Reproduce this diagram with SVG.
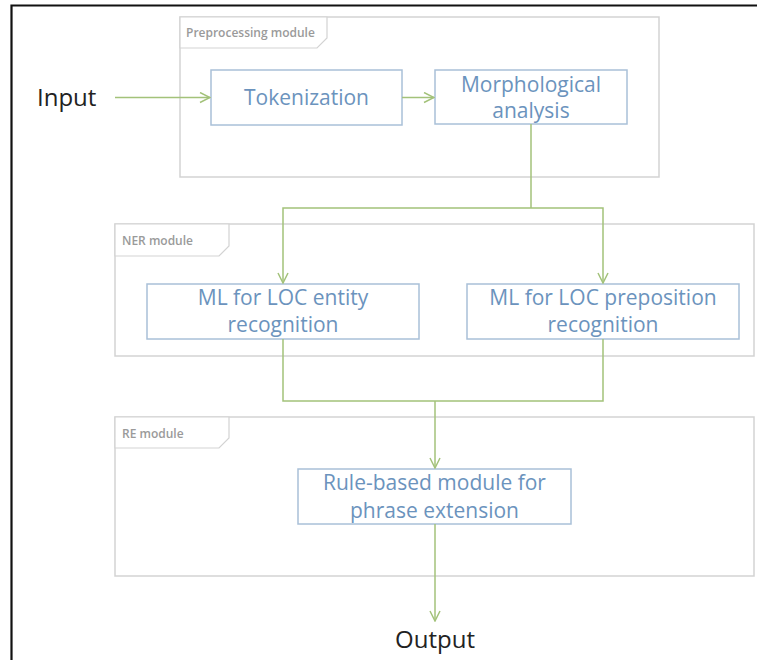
<svg xmlns="http://www.w3.org/2000/svg" width="757" height="660" viewBox="0 0 757 660">
  <style>
    .frame { fill: none; stroke: #d3d3d3; stroke-width: 1.5; }
    .tab { fill: #ffffff; stroke: #d3d3d3; stroke-width: 1.2; }
    .mlabel { font-family: "Open Sans", "Liberation Sans", sans-serif; font-size: 12px; font-weight: 600; fill: #9a9a9a; }
    .box { fill: #ffffff; stroke: #a9c0d8; stroke-width: 1.5; }
    .btext { font-family: "Open Sans", "Liberation Sans", sans-serif; font-size: 21px; fill: #6b93bd; text-anchor: middle; }
    .term { font-family: "Open Sans", "Liberation Sans", sans-serif; font-size: 24px; fill: #222222; }
    .conn { fill: none; stroke: #a3c27a; stroke-width: 1.5; }
  </style>
  <defs>
    <marker id="vee" viewBox="0 0 12 12" refX="11" refY="6" markerWidth="12" markerHeight="12" markerUnits="userSpaceOnUse" orient="auto">
      <path d="M1,1 L11,6 L1,11" fill="none" stroke="#a3c27a" stroke-width="1.5"/>
    </marker>
  </defs>

  <rect width="757" height="660" fill="#ffffff"/>
  <!-- outer border -->
  <path d="M11.5,660 V5.5 H757" fill="none" stroke="#111111" stroke-width="2.2"/>

  <!-- module frames -->
  <g id="preprocessing-module">
    <rect class="frame" x="180" y="17" width="479" height="160"/>
    <path class="tab" d="M180,17 H327 V38 L317,48 H180 Z"/>
    <text class="mlabel" x="186" y="37">Preprocessing module</text>
  </g>
  <g id="ner-module">
    <rect class="frame" x="115" y="224" width="639" height="132"/>
    <path class="tab" d="M115,224 H229 V246 L219,256 H115 Z"/>
    <text class="mlabel" x="122" y="245">NER module</text>
  </g>
  <g id="re-module">
    <rect class="frame" x="115" y="417" width="639" height="159"/>
    <path class="tab" d="M115,417 H229 V438 L219,448 H115 Z"/>
    <text class="mlabel" x="122" y="438">RE module</text>
  </g>

  <!-- processing steps -->
  <g id="input">
    <text class="term" x="37" y="106">Input</text>
  </g>
  <g id="tokenization">
    <rect class="box" x="211" y="70" width="191" height="55"/>
    <text class="btext" x="306.5" y="105">Tokenization</text>
  </g>
  <g id="morphological-analysis">
    <rect class="box" x="435" y="70" width="192" height="54"/>
    <text class="btext" x="531" y="92">Morphological</text>
    <text class="btext" x="531" y="118">analysis</text>
  </g>
  <g id="loc-entity">
    <rect class="box" x="147" y="284" width="272" height="55"/>
    <text class="btext" x="283" y="305">ML for LOC entity</text>
    <text class="btext" x="283" y="332">recognition</text>
  </g>
  <g id="loc-preposition">
    <rect class="box" x="467" y="284" width="272" height="55"/>
    <text class="btext" x="603" y="305">ML for LOC preposition</text>
    <text class="btext" x="603" y="332">recognition</text>
  </g>
  <g id="phrase-extension">
    <rect class="box" x="298" y="469" width="273" height="55"/>
    <text class="btext" x="434.5" y="490">Rule-based module for</text>
    <text class="btext" x="434.5" y="518">phrase extension</text>
  </g>
  <g id="output">
    <text class="term" x="435" y="648" text-anchor="middle">Output</text>
  </g>

  <!-- connectors -->
  <g id="connectors">
    <path class="conn" d="M115,97.5 H210" marker-end="url(#vee)"/>
    <path class="conn" d="M402,97.5 H434" marker-end="url(#vee)"/>
    <path class="conn" d="M531,124 V208"/>
    <path class="conn" d="M531,208 H283 V283" marker-end="url(#vee)"/>
    <path class="conn" d="M531,208 H603 V283" marker-end="url(#vee)"/>
    <path class="conn" d="M283,339 V401 H435"/>
    <path class="conn" d="M603,339 V401 H435"/>
    <path class="conn" d="M435,401 V468" marker-end="url(#vee)"/>
    <path class="conn" d="M435,524 V621" marker-end="url(#vee)"/>
  </g>
</svg>
